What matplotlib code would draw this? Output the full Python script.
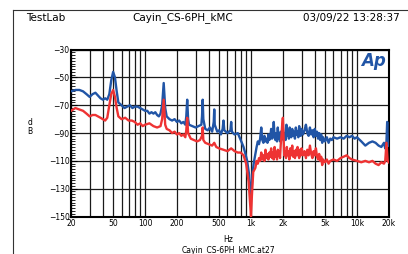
import numpy as np
import matplotlib
matplotlib.use("Agg")
import matplotlib.pyplot as plt
from matplotlib.lines import Line2D
from matplotlib.ticker import FixedLocator, MultipleLocator

# Dataset (Hz, dB)
blue_f = [20, 22, 24, 26, 28, 30, 32, 34, 36, 38, 40, 42, 44, 46, 48, 50, 52, 54, 56, 60,
          64, 68, 72, 76, 80, 85, 90, 95, 100, 105, 110, 115, 120, 125, 130, 135, 140, 145, 150, 155,
          160, 170, 180, 190, 200, 210, 220, 230, 240, 245, 250, 255, 260, 280, 300, 320, 340, 345, 350, 355,
          370, 390, 410, 430, 445, 450, 455, 480, 500, 520, 540, 550, 560, 600, 640, 650, 660, 700, 750, 800,
          850, 880, 920, 960, 990, 1010, 1030, 1060,
          1100, 1130, 1160, 1190, 1220, 1250, 1280, 1310, 1340, 1370, 1400, 1430, 1460, 1490, 1520, 1550,
          1580, 1610, 1640, 1670, 1700, 1730, 1760, 1790, 1820, 1850, 1880, 1910, 1940, 1970, 2000, 2040,
          2080, 2120, 2160, 2200, 2240, 2280, 2320, 2360, 2400, 2450, 2500, 2550, 2600, 2650, 2700, 2750,
          2800, 2850, 2900, 2950, 3000, 3100, 3200, 3300, 3400, 3500, 3600, 3700, 3800, 3900, 4000, 4100,
          4200, 4300, 4400, 4500, 4600, 4700, 4800, 5000, 5200, 5400, 5600, 5800, 6000, 6500, 7000, 7500,
          8000, 8500, 9000, 9500, 10000, 11000, 12000, 13000, 14000, 15000, 16000, 17000, 18000, 18500, 19000, 19300,
          19600, 20000]
blue_db = [-60, -59, -59, -60, -62, -64, -62, -61, -63, -65, -66, -65, -66, -62, -52, -46, -50, -60, -68, -70,
           -72, -71, -70, -72, -71, -71, -72, -73, -74, -74, -76, -75, -76, -75, -77, -78, -76, -70, -54, -72,
           -78, -80, -81, -80, -82, -81, -83, -82, -84, -78, -66, -80, -84, -85, -86, -85, -84, -78, -66, -80,
           -87, -88, -86, -89, -82, -73, -84, -89, -88, -91, -87, -81, -88, -90, -88, -82, -89, -91, -90, -95,
           -100, -104, -110, -120, -135, -134, -120, -112,
           -105, -100, -96, -98, -94, -86, -95, -97, -92, -96, -94, -97, -91, -95, -93, -87,
           -94, -92, -82, -93, -95, -90, -96, -86, -94, -91, -96, -89, -95, -92, -86, -94,
           -90, -95, -84, -92, -88, -94, -86, -91, -93, -87, -92, -89, -94, -86, -91, -89,
           -93, -85, -90, -92, -87, -91, -88, -84, -90, -92, -86, -91, -88, -93, -87, -92,
           -89, -94, -90, -95, -91, -97, -93, -96, -93, -97, -94, -95, -93, -94, -93, -94,
           -92, -93, -92, -94, -93, -96, -99, -97, -96, -97, -99, -100, -97, -101, -96, -82,
           -98, -99]

red_f = [20, 22, 24, 26, 28, 30, 32, 34, 36, 38, 40, 42, 44, 46, 48, 50, 52, 54, 56, 60,
         65, 70, 75, 80, 85, 90, 95, 100, 110, 120, 130, 140, 145, 150, 155, 160, 170, 180, 190, 200,
         210, 220, 230, 240, 245, 250, 255, 270, 290, 310, 330, 345, 350, 355, 370, 400, 430, 450, 470, 500,
         550, 600, 650, 700, 750, 800, 850, 900, 950, 980, 1000, 1020, 1050,
         1100, 1130, 1160, 1190, 1220, 1250, 1280, 1310, 1340, 1370, 1400, 1430, 1460, 1490, 1520, 1550,
         1580, 1610, 1640, 1670, 1700, 1730, 1760, 1790, 1820, 1850, 1880, 1910, 1940, 1970, 2000, 2030,
         2060, 2100, 2140, 2180, 2220, 2260, 2300, 2350, 2400, 2450, 2500, 2550, 2600, 2650, 2700, 2750,
         2800, 2850, 2900, 2950, 3000, 3100, 3200, 3300, 3400, 3500, 3600, 3700, 3800, 3900, 4000, 4100,
         4200, 4300, 4400, 4500, 4600, 4700, 4800, 5000, 5200, 5400, 5600, 6000, 6500, 7000, 7500, 8000,
         8500, 9000, 10000, 11000, 12000, 13000, 14000, 15000, 16000, 17000, 18000, 18500, 19000, 19500, 20000]
red_db = [-74, -72, -73, -74, -76, -78, -77, -77, -78, -79, -80, -81, -79, -70, -62, -59, -64, -72, -78, -80,
          -79, -81, -81, -82, -84, -83, -85, -84, -83, -85, -86, -85, -80, -66, -84, -87, -88, -90, -89, -91,
          -90, -92, -91, -93, -88, -79, -90, -94, -95, -96, -95, -92, -86, -95, -97, -98, -99, -97, -100, -101,
          -102, -103, -101, -103, -104, -104, -106, -112, -125, -140, -150, -135, -118,
          -115, -110, -112, -108, -110, -104, -109, -106, -110, -102, -108, -105, -109, -104, -107, -101,
          -108, -104, -109, -100, -107, -104, -109, -102, -106, -103, -108, -98, -92, -84, -79, -92,
          -106, -103, -108, -100, -106, -103, -109, -101, -106, -99, -107, -103, -108, -102, -106, -100,
          -105, -108, -102, -106, -101, -106, -103, -108, -102, -106, -99, -105, -108, -103, -106, -101,
          -107, -109, -105, -110, -107, -113, -109, -111, -109, -112, -110, -109, -110, -108, -107, -106,
          -108, -109, -110, -111, -110, -111, -110, -112, -113, -111, -112, -110, -97, -110, -111]

x_ticks = [20, 50, 100, 200, 500, 1000, 2000, 5000, 10000, 20000]
x_labels = ['20', '50', '100', '200', '500', '1k', '2k', '5k', '10k', '20k']
y_ticks = [-30, -50, -70, -90, -110, -130, -150]

fig = plt.figure(figsize=(4.08, 2.54), dpi=100)
ax = fig.add_axes([0.174, 0.1476, 0.779, 0.657])

# grid lines
vgrid = [20, 30, 40, 50, 60, 70, 80, 90, 100, 200, 300, 400, 500, 600, 700, 800, 900,
         1000, 2000, 3000, 4000, 5000, 6000, 7000, 8000, 9000, 10000, 20000]
for v in vgrid:
    ax.axvline(v, color='#1a1a1a', lw=0.9, zorder=1)
for h in y_ticks:
    ax.axhline(h, color='#1a1a1a', lw=0.9, zorder=1)

ax.plot(blue_f, blue_db, color='#2155a6', lw=1.7, zorder=3)
ax.plot(red_f, red_db, color='#ee3333', lw=1.7, zorder=4)

ax.set_xscale('log')
ax.set_xlim(20, 20000)
ax.set_ylim(-150, -30)
ax.xaxis.set_major_locator(FixedLocator(x_ticks))
ax.xaxis.set_minor_locator(FixedLocator([]))
ax.set_xticklabels(x_labels)
ax.set_yticks(y_ticks)
ax.yaxis.set_minor_locator(MultipleLocator(2))
ax.tick_params(axis='x', length=0, labelsize=5.5, pad=2)
ax.tick_params(axis='y', which='major', direction='in', length=4, labelsize=5.5, pad=1)
ax.tick_params(axis='y', which='minor', direction='in', length=3, width=0.6)
for s in ax.spines.values():
    s.set_linewidth(1.5)

ax.text(0.99, 0.985, 'Ap', transform=ax.transAxes, ha='right', va='top',
        fontsize=12, fontweight='bold', style='italic', color='#2155a6')

fig.text(0.0735, 0.5, 'd\nB', ha='center', va='center', fontsize=5.5, linespacing=1.1)
fig.text(0.559, 0.057, 'Hz', ha='center', va='center', fontsize=5.5)
fig.text(0.559, 0.012, 'Cayin_CS-6PH_kMC.at27', ha='center', va='center', fontsize=5.5)

fig.text(0.064, 0.929, 'TestLab', ha='left', va='center', fontsize=7.5)
fig.text(0.448, 0.929, 'Cayin_CS-6PH_kMC', ha='center', va='center', fontsize=7.5)
fig.text(0.98, 0.929, '03/09/22 13:28:37', ha='right', va='center', fontsize=7.5)

# outer frame
fig.add_artist(Line2D([0.032, 0.032], [0.0, 0.9606], color='#333333', lw=0.8))
fig.add_artist(Line2D([0.032, 1.0], [0.9606, 0.9606], color='#333333', lw=0.8))

plt.savefig('out.png', dpi=100)
